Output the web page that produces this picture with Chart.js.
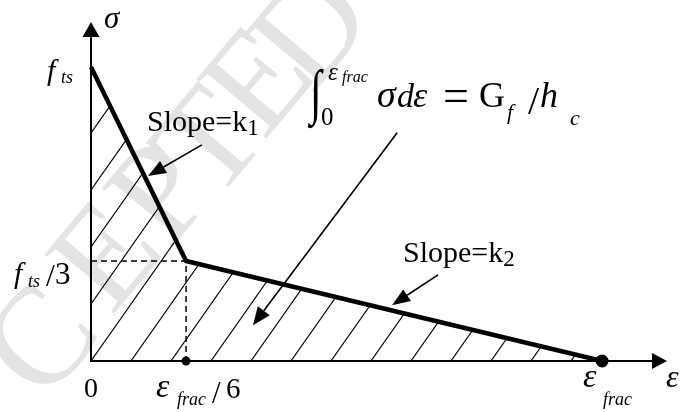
<!DOCTYPE html>
<html>
<head>
<meta charset="utf-8">
<script src="https://cdn.jsdelivr.net/npm/chart.js@4.4.0/dist/chart.umd.min.js"></script>
<style>
  html, body { margin: 0; padding: 0; background: #fff; }
</style>
</head>
<body>
<canvas id="chart" width="680" height="412"></canvas>
<script>
// Bilinear softening law, as drawn (strain in eps_frac, stress in f_ts)
const strain = [0, 0.186, 1];
const stress = [1, 0.34, 0];

// Guide lines at the knee
const kneeStrain = 0.186;
const kneeStress = 0.34;

// Axis extents (arrow tips)
const axisMaxX = 1.127;
const axisMaxY = 1.153;

// Tick positions on each axis
const xTicks = [0, kneeStrain, 1];
const yTicks = [1, kneeStress];

const serif = '"Liberation Serif", "Times New Roman", serif';
const pad = { left: 91, right: 13, top: 22, bottom: 51 };

// Diagonal hatch pattern for the area under the curve
function makeHatch() {
    const w = 40, h = 57;
    const c = document.createElement('canvas');
    c.width = w; c.height = h;
    const g = c.getContext('2d');
    g.strokeStyle = '#000';
    g.lineWidth = 1.2;
    // one line passes through the origin of the axes
    const originY = 412 - pad.bottom;
    const phase = ((pad.left + originY * w / h) % w + w) % w;
    for (let k = -1; k <= 1; k++) {
        g.beginPath();
        g.moveTo(phase + k * w, 0);
        g.lineTo(phase - w + k * w, h);
        g.stroke();
    }
    return g.createPattern(c, 'repeat');
}

function arrow(ctx, x1, y1, x2, y2, len, half, width) {
    const a = Math.atan2(y2 - y1, x2 - x1);
    const bx = x2 - Math.cos(a) * len, by = y2 - Math.sin(a) * len;
    ctx.save();
    ctx.strokeStyle = '#000';
    ctx.fillStyle = '#000';
    ctx.lineWidth = width;
    ctx.beginPath();
    ctx.moveTo(x1, y1);
    ctx.lineTo(bx, by);
    ctx.stroke();
    ctx.beginPath();
    ctx.moveTo(x2, y2);
    ctx.lineTo(bx + Math.sin(a) * half, by - Math.cos(a) * half);
    ctx.lineTo(bx - Math.sin(a) * half, by + Math.cos(a) * half);
    ctx.closePath();
    ctx.fill();
    ctx.restore();
}

function txt(ctx, s, font, x, y, align) {
    ctx.font = font;
    ctx.textAlign = align || 'left';
    ctx.fillText(s, x, y);
}

// text followed by a lowered subscript, drawn right after it
function withSub(ctx, s, font, sub, subFont, x, y, drop, gap) {
    ctx.font = font;
    ctx.textAlign = 'left';
    ctx.fillText(s, x, y);
    const w = ctx.measureText(s).width;
    ctx.font = subFont;
    ctx.fillText(sub, x + w + (gap || 0), y + drop);
}

const decor = {
    id: 'decor',
    beforeDraw(chart) {
        const ctx = chart.ctx;
        const sx = chart.scales.x, sy = chart.scales.y;

        // faint watermark, letter by letter
        const marks = [['C', 40, 340], ['E', 105, 255], ['P', 160, 192],
                       ['T', 208, 142], ['E', 257, 80], ['D', 310, 28]];
        ctx.save();
        ctx.fillStyle = '#e3e3e3';
        ctx.font = '140px ' + serif;
        ctx.textAlign = 'center';
        ctx.textBaseline = 'middle';
        marks.forEach(m => {
            ctx.save();
            ctx.translate(m[1], m[2]);
            ctx.rotate(-50 * Math.PI / 180);
            ctx.fillText(m[0], 0, 8);
            ctx.restore();
        });
        ctx.restore();

        // axes with arrow heads
        const x0 = sx.getPixelForValue(0), y0 = sy.getPixelForValue(0);
        arrow(ctx, x0, y0 + 1, x0, sy.getPixelForValue(axisMaxY), 15, 8.5, 2);
        arrow(ctx, x0 - 1, y0, sx.getPixelForValue(axisMaxX), y0, 15, 8, 2);
    },
    afterDraw(chart) {
        const ctx = chart.ctx;
        const sx = chart.scales.x, sy = chart.scales.y;
        const X = v => sx.getPixelForValue(v), Y = v => sy.getPixelForValue(v);
        ctx.save();
        ctx.fillStyle = '#000';
        ctx.textBaseline = 'alphabetic';

        // pointer arrows
        arrow(ctx, X(0.217), Y(0.735), X(0.1115), Y(0.629), 18, 7, 1.6);
        arrow(ctx, X(0.679), Y(0.293), X(0.589), Y(0.19), 18, 7, 1.6);
        arrow(ctx, X(0.599), Y(0.776), X(0.317), Y(0.122), 18, 7.5, 1.6);

        const it = s => 'italic ' + s + 'px ' + serif;
        const up = s => s + 'px ' + serif;

        // axis titles
        txt(ctx, 'σ', it(31), X(0) + 13, Y(axisMaxY) + 6);
        txt(ctx, 'ε', it(32), X(axisMaxX) - 1, Y(0) + 26);

        // y tick labels
        txt(ctx, 'f', it(30), 47, Y(yTicks[0]) + 13);
        txt(ctx, 'ts', it(18), 61, Y(yTicks[0]) + 16);
        txt(ctx, 'f', it(30), 14, Y(yTicks[1]) + 22);
        txt(ctx, 'ts', it(18), 28, Y(yTicks[1]) + 26);
        txt(ctx, '/', up(32), 46, Y(yTicks[1]) + 25);
        txt(ctx, '3', up(31), 55, Y(yTicks[1]) + 23);

        // x tick labels
        txt(ctx, '0', up(28), X(xTicks[0]), Y(0) + 36, 'center');
        txt(ctx, 'ε', it(34), X(xTicks[1]) - 30, Y(0) + 36);
        txt(ctx, 'frac', it(18), X(xTicks[1]) - 9, Y(0) + 44);
        txt(ctx, '/', up(31), X(xTicks[1]) + 26, Y(0) + 42);
        txt(ctx, '6', up(29), X(xTicks[1]) + 40, Y(0) + 37);
        txt(ctx, 'ε', it(34), X(xTicks[2]) - 19, Y(0) + 26);
        txt(ctx, 'frac', it(18), X(xTicks[2]) + 1, Y(0) + 44);

        // slope labels
        withSub(ctx, 'Slope=k', up(30), '1', up(23), 147, 131, 4, 0);
        withSub(ctx, 'Slope=k', up(30), '2', up(23), 403, 262, 4, 0);

        // fracture energy integral
        ctx.save();
        ctx.translate(310, 112);
        ctx.scale(1, 1.45);
        txt(ctx, '∫', up(42), 0, 0);
        ctx.restore();
        txt(ctx, 'ε', it(25), 328, 80);
        txt(ctx, 'frac', it(16), 342, 82);
        txt(ctx, '0', up(25), 321, 125);
        txt(ctx, 'σ', it(38), 377, 107);
        txt(ctx, 'd', it(34), 397, 107);
        txt(ctx, 'ε', it(36), 413, 107);
        txt(ctx, '=', up(46), 443, 111);
        txt(ctx, 'G', up(36), 479, 107);
        txt(ctx, 'f', it(22), 507, 119);
        txt(ctx, '/', up(40), 528, 114);
        txt(ctx, 'h', it(36), 540, 107);
        txt(ctx, 'c', it(22), 570, 125);
        ctx.restore();
    }
};

const ctx = document.getElementById('chart').getContext('2d');
const chart = new Chart(ctx, {
    type: 'scatter',
    data: {
        datasets: [
            {
                label: 'softening',
                data: strain.map((x, i) => ({ x: x, y: stress[i] })),
                showLine: true,
                borderColor: '#000',
                borderWidth: 4.5,
                borderJoinStyle: 'miter',
                fill: 'origin',
                backgroundColor: makeHatch(),
                pointRadius: 0,
                clip: false,
                order: 2
            },
            {
                label: 'guides',
                data: [
                    { x: 0, y: kneeStress },
                    { x: kneeStrain, y: kneeStress },
                    { x: kneeStrain, y: 0 }
                ],
                showLine: true,
                borderColor: '#000',
                borderWidth: 1.5,
                borderDash: [6, 4],
                pointRadius: 0,
                fill: false,
                clip: false,
                order: 3
            },
            {
                label: 'points',
                data: [{ x: kneeStrain, y: 0 }, { x: 1, y: 0 }],
                pointRadius: [4.5, 6.5],
                pointBackgroundColor: '#000',
                pointBorderWidth: 0,
                clip: false,
                order: 1
            }
        ]
    },
    options: {
        responsive: false,
        animation: false,
        layout: { padding: pad },
        plugins: { legend: { display: false }, tooltip: { enabled: false } },
        scales: {
            x: { type: 'linear', min: 0, max: axisMaxX, display: false },
            y: { type: 'linear', min: 0, max: axisMaxY, display: false }
        }
    },
    plugins: [decor]
});
</script>
</body>
</html>
